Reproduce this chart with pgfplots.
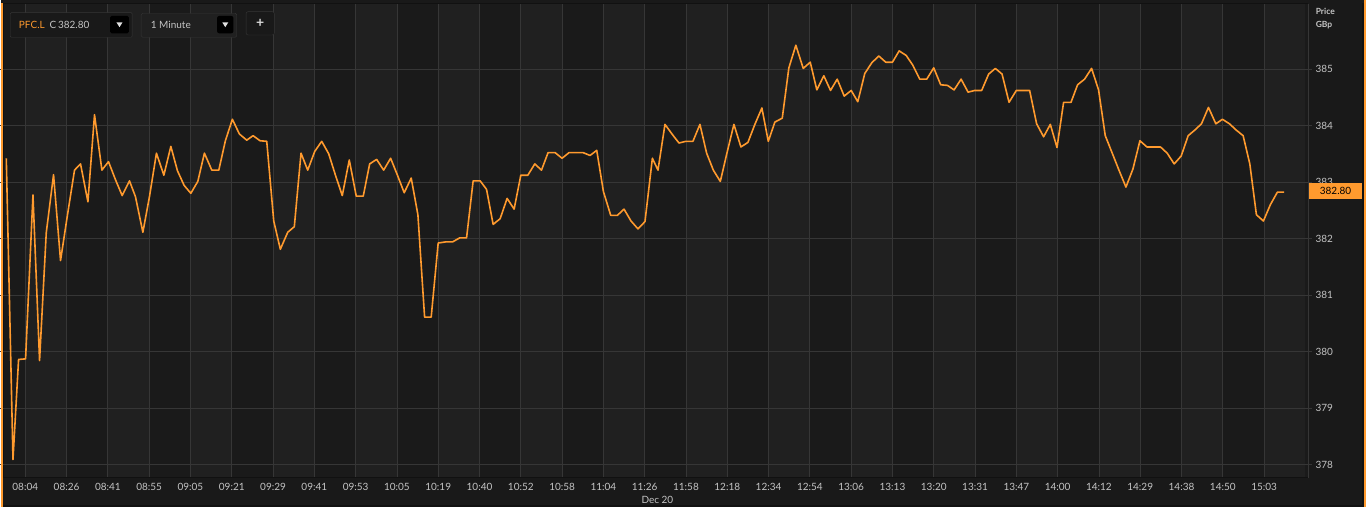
\documentclass[border=0pt]{standalone}
\usepackage{fontspec}
\setmainfont{Lato}
\usepackage{pgfplots}
\pgfplotsset{compat=1.18}

\definecolor{outer}{HTML}{111111}
\definecolor{panel}{HTML}{191919}
\definecolor{bgD}{HTML}{1A1A1A}
\definecolor{bgL}{HTML}{202020}
\definecolor{gridc}{HTML}{363636}
\definecolor{labc}{HTML}{C4C4C4}
\definecolor{pline}{HTML}{FF9A2E}

\begin{document}
\begin{tikzpicture}[x=1pt,y=1pt]
\fill[outer] (0,0) rectangle (1366,507);
\fill[panel] (1308,2) rectangle (1362,504);
\fill[panel] (2,2) rectangle (1308,29);
% plot area background with alternating bands (1pt = 1 px of the time axis)
\fill[bgD] (3,29) rectangle (1308,503);
\foreach \k in {0,2,...,30} {
  \fill[bgL] ({24+41.3333*\k},29) rectangle ({24+41.3333*(\k+1)},503);
}

\begin{axis}[
    at={(3pt,29pt)}, anchor=south west,
    scale only axis, width=1305pt, height=474pt,
    xmin=3, xmax=1308,
    ymin=377.77, ymax=386.15,
    axis line style={draw=none},
    xmajorgrids, ymajorgrids,
    major grid style={draw=gridc, line width=0.8pt},
    xtick={24,65.33,106.67,148,189.33,230.67,272,313.33,354.67,396,437.33,478.67,520,561.33,602.67,644,685.33,726.67,768,809.33,850.67,892,933.33,974.67,1016,1057.33,1098.67,1140,1181.33,1222.67,1264},
    xticklabels={08:04,08:26,08:41,08:55,09:05,09:21,09:29,09:41,09:53,10:05,10:19,10:40,10:52,10:58,11:04,11:26,11:58,12:18,12:34,12:54,13:06,13:13,13:20,13:31,13:47,14:00,14:12,14:29,14:38,14:50,15:03},
    ytick={378,379,...,385},
    yticklabel pos=right,
    tick align=outside,
    major tick length=4pt,
    xtick style={draw=none},
    ytick style={draw=gridc, line width=0.6pt},
    tick label style={font=\fontsize{10}{12}\selectfont, text=labc},
    xticklabel style={yshift=1.5pt},
    /pgf/number format/assume math mode=true,
]
\addplot[pline, line width=1.6pt, line join=round] coordinates {
(5,383.42) (11.7,378.09) (17.3,379.86) (24.3,379.87) (31.7,382.77) (38.3,379.84)
(45,382.10) (52.3,383.13) (59.3,381.61) (66,382.39) (73.3,383.21) (79.3,383.32)
(86.7,382.65) (93.3,384.19) (100.7,383.21) (107.3,383.36) (114.3,383.04) (121,382.76)
(128.3,383.02) (134.3,382.74) (141.7,382.11) (148.3,382.74) (155.3,383.51) (162.7,383.12)
(169.7,383.63) (176.3,383.20) (183,382.94) (189.7,382.80) (196.7,383.01) (203.3,383.51)
(210.7,383.21) (217.7,383.21) (224.3,383.73) (231.3,384.11) (238.3,383.85) (245.7,383.74)
(252,383.82) (259,383.73) (265.7,383.72) (272.7,382.31) (279.3,381.81) (286.7,382.11)
(293.3,382.21) (300,383.51) (306.7,383.21) (313.7,383.54) (320.7,383.72) (327.7,383.50)
(334.3,383.13) (341.3,382.76) (348.3,383.39) (355.3,382.75) (362.3,382.75) (368.7,383.32)
(375.7,383.40) (382.7,383.21) (389.7,383.42) (396.3,383.13) (403.3,382.81) (410.3,383.07)
(417,382.42) (423.7,380.61) (430.3,380.61) (437.3,381.92) (444.7,381.94) (451.7,381.94)
(458.7,382.01) (465.7,382.01) (472.3,383.02) (479.3,383.02) (485.7,382.87) (492.3,382.25)
(499.3,382.35) (506.3,382.71) (513.3,382.52) (520,383.12) (527,383.12) (534,383.32)
(540.7,383.21) (547.3,383.52) (554.3,383.52) (561.3,383.42) (568.3,383.52) (575.3,383.52)
(582.3,383.52) (589.3,383.47) (596,383.56) (602.7,382.83) (610,382.41) (616.7,382.41)
(623.3,382.52) (630.3,382.31) (637.3,382.17) (644.3,382.30) (651.7,383.42) (657.3,383.21)
(664.3,384.02) (671.3,383.85) (678.3,383.69) (685.3,383.72) (692.3,383.72) (699.3,384.02)
(706,383.51) (712.7,383.21) (719.7,383.01) (726.3,383.51) (733.3,384.02) (740.3,383.62)
(747.3,383.70) (754.3,384.02) (761.3,384.31) (767.7,383.72) (774.3,384.06) (781.7,384.13)
(788.3,385.02) (795.3,385.42) (802.7,385.01) (809.7,385.12) (816.3,384.63) (823.3,384.88)
(830,384.62) (836.7,384.82) (843.7,384.52) (850.7,384.62) (857.3,384.42) (864.3,384.92)
(871.3,385.11) (878.3,385.23) (885.3,385.12) (892,385.12) (898.7,385.32) (905.7,385.24)
(912.3,385.07) (919.3,384.82) (926.3,384.82) (933.3,385.02) (940.3,384.72) (947,384.71)
(953.7,384.63) (960.7,384.82) (967.7,384.59) (974.3,384.62) (981.3,384.62) (988.3,384.91)
(995,385.01) (1001.7,384.91) (1008.7,384.41) (1016,384.62) (1022.7,384.62) (1029.3,384.62)
(1036.3,384.03) (1043.3,383.80) (1050,384.02) (1056.7,383.61) (1063.3,384.41) (1070.7,384.41)
(1077.3,384.72) (1084.3,384.82) (1091.3,385.01) (1098.3,384.63) (1105,383.82) (1112,383.51)
(1118.7,383.21) (1125.7,382.91) (1132.7,383.23) (1139.7,383.73) (1146.7,383.62) (1153.3,383.62)
(1160.3,383.62) (1167,383.51) (1174,383.32) (1181,383.46) (1188,383.82) (1194.7,383.92)
(1201.3,384.03) (1208.3,384.32) (1215.7,384.03) (1222.3,384.11) (1229.3,384.03) (1236,383.92)
(1243,383.82) (1249.7,383.32) (1256.3,382.42) (1263.3,382.31) (1270.3,382.60) (1277.3,382.82)
(1284,382.82)
};
\end{axis}

% frame lines
\draw[gridc, line width=0.8pt] (1308,29) -- (1308,503);
\draw[outer, line width=1pt] (2,29) -- (1308,29);
\fill[black!90] (0,503.5) rectangle (1366,507);
\fill[pline] (0,0) rectangle (1.5,503.5);
\fill[pline] (1363.5,0) rectangle (1366,507);

% last price label
\fill[pline] (1309,307.7) rectangle (1362,323.7);
\node[font=\fontsize{10}{12}\selectfont, text=black] at (1335.5,315.7) {382.80};

% axis captions
\node[anchor=west, font=\bfseries\fontsize{8.5}{10}\selectfont, text=labc, inner sep=0pt] at (1315.5,496) {Price};
\node[anchor=west, font=\bfseries\fontsize{8.5}{10}\selectfont, text=labc, inner sep=0pt] at (1315.5,481.5) {GBp};
\node[font=\fontsize{10}{12}\selectfont, text=labc] at (656.7,7) {Dec 20};

% toolbar
\draw[fill=panel, draw=gridc, rounded corners=1pt] (9,469.7) rectangle (131,494.3);
\node[anchor=west, inner sep=0pt, font=\fontsize{10}{12}\selectfont] at (17.5,482) {\textcolor{pline}{PFC.L}\hspace{5pt}\textcolor{labc}{C\,382.80}};
\fill[black, rounded corners=1.5pt] (109,473.7) rectangle (127.7,491);
\fill[white!88!black] (115.3,484.6) -- (121.3,484.6) -- (118.3,479.8) -- cycle;

\draw[fill=bgL, draw=gridc, rounded corners=1.5pt] (140,469.7) rectangle (235.7,493.7);
\node[anchor=west, inner sep=0pt, font=\fontsize{10}{12}\selectfont, text=labc] at (149.5,482) {1 Minute};
\fill[black, rounded corners=2pt] (216,473.7) rectangle (232.3,491);
\fill[white!88!black] (221.2,484.6) -- (227.2,484.6) -- (224.2,479.8) -- cycle;

\draw[fill=panel, draw=gridc, rounded corners=2pt] (245,472) rectangle (273.3,495.3);
\node[font=\bfseries\fontsize{14}{14}\selectfont, text=white!85!black] at (259.2,483.7) {+};
\end{tikzpicture}
\end{document}
